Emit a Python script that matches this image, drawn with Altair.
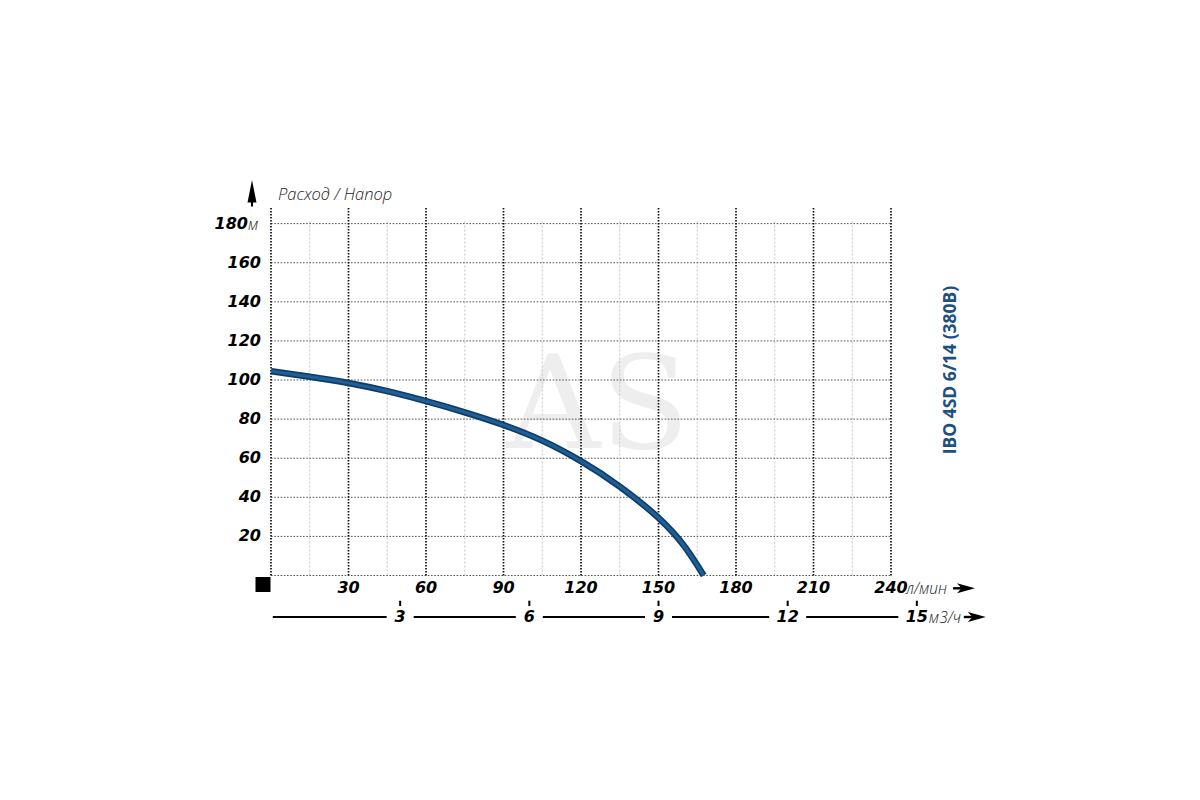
import altair as alt
import pandas as pd

# ---------------- data ----------------
flow_lpm = [0, 15, 30, 45, 60, 75, 90, 105, 120, 135, 150, 160, 167.5]
head_m = [104.5, 101.7, 98.5, 94.3, 89.2, 83.5, 77.0, 69.0, 58.5, 45.5, 29.5, 15.0, 0.0]

x_label_values = [30, 60, 90, 120, 150, 180, 210, 240]          # л/мин
x_major_grid = [0, 30, 60, 90, 120, 150, 180, 210, 240]
x_minor_grid = [15, 45, 75, 105, 135, 165, 195, 225]
y_label_values = [20, 40, 60, 80, 100, 120, 140, 160]
y_top_label = 180
y_grid = [0, 20, 40, 60, 80, 100, 120, 140, 160, 180]
m3h_values = [3, 6, 9, 12, 15]                                   # м3/ч
LPM_PER_M3H = 1000 / 60

title_right = "IBO 4SD 6/14 (380В)"
axis_title = "Расход / Напор"
x_unit = "л/мин"
x2_unit = "м3/ч"
y_unit = "м"
watermark = "AS"

# ---------------- layout ----------------
W, H = 620, 367.5
XMAX, YMAX = 240, 188
PX_PER_UNIT = W / XMAX
FONT = "Open Sans"
NUMFONT = "DejaVu Sans"
NUMSIZE = 16

xs = alt.Scale(domain=[0, XMAX], nice=False, zero=False)
ys = alt.Scale(domain=[0, YMAX], nice=False, zero=False)

curve = pd.DataFrame({"q": flow_lpm, "h": head_m})
xlab = pd.DataFrame({"v": x_label_values, "t": [str(v) for v in x_label_values]})
ylab = pd.DataFrame({"v": y_label_values, "t": [str(v) for v in y_label_values]})
m3 = pd.DataFrame({"m": m3h_values, "t": [str(v) for v in m3h_values]})
m3["pos"] = m3["m"] * LPM_PER_M3H

# line segments of the m3/h row, interrupted around each label
half_gap = [(13.5 if len(t) == 1 else 18.5) / PX_PER_UNIT for t in m3["t"]]
starts, ends = [0.7], []
for p, g in zip(m3["pos"], half_gap):
    ends.append(p - g)
    starts.append(p + g)
seg = pd.DataFrame({"a": starts[:-1], "b": ends})

ROW1_Y = 380.3
ROW2_Y = 409.0
ARROW = "M1,0L-1,-0.55L-0.5,0L-1,0.55Z"

num_style = dict(font=NUMFONT, fontSize=NUMSIZE, fontWeight="bold", fontStyle="italic",
                 baseline="middle", color="#000000")
unit_style = dict(font=FONT, fontSize=15.5, fontStyle="italic", fontWeight=300,
                  align="left", baseline="middle", color="#1a1a1a")

# watermark
wm = alt.Chart(pd.DataFrame({"t": [watermark]})).mark_text(
    font="DejaVu Serif", fontSize=130, color="#eeeeee", align="center", baseline="alphabetic"
).encode(x=alt.value(327), y=alt.value(240), text="t:N")

# grid
vmaj = alt.Chart(pd.DataFrame({"x": x_major_grid})).mark_rule(
    color="#111111", strokeWidth=1.7, strokeDash=[1.6, 1.4]
).encode(x=alt.X("x:Q", scale=xs, axis=None), y=alt.YDatum(0), y2=alt.Y2Datum(YMAX))

vmin = alt.Chart(pd.DataFrame({"x": x_minor_grid})).mark_rule(
    color="#c4c4c4", strokeWidth=1, strokeDash=[2, 2]
).encode(x=alt.X("x:Q", scale=xs, axis=None), y=alt.YDatum(0), y2=alt.Y2Datum(182))

hgrid = alt.Chart(pd.DataFrame({"y": y_grid})).mark_rule(
    color="#555555", strokeWidth=1, strokeDash=[1.6, 1.6]
).encode(y=alt.Y("y:Q", scale=ys, axis=None), x=alt.XDatum(0), x2=alt.X2Datum(XMAX))

# curve
line_dark = alt.Chart(curve).mark_line(
    interpolate="natural", color="#0f3c66", strokeWidth=6.5, strokeCap="butt"
).encode(x=alt.X("q:Q", scale=xs, axis=None), y=alt.Y("h:Q", scale=ys, axis=None))
line_light = alt.Chart(curve).mark_line(
    interpolate="natural", color="#1e5f98", strokeWidth=3.2, strokeCap="butt"
).encode(x=alt.X("q:Q", scale=xs, axis=None), y=alt.Y("h:Q", scale=ys, axis=None))

# y labels
ytext = alt.Chart(ylab).mark_text(align="right", **num_style).encode(
    x=alt.value(-10), y=alt.Y("v:Q", scale=ys, axis=None), text="t:N")
ytop = alt.Chart(pd.DataFrame({"v": [y_top_label], "t": [str(y_top_label)], "u": [y_unit]}))
ytop_num = ytop.mark_text(align="right", **num_style).encode(
    x=alt.value(-23), y=alt.Y("v:Q", scale=ys, axis=None), text="t:N")
ytop_unit = ytop.mark_text(dy=1, **unit_style).encode(
    x=alt.value(-23), y=alt.Y("v:Q", scale=ys, axis=None), text="u:N")

# y arrow + title
yarrow = alt.Chart(pd.DataFrame({"k": [0]})).mark_point(
    shape="M0,-1L0.34,0.7L0.08,0.7L0.08,1L-0.08,1L-0.08,0.7L-0.34,0.7Z",
    filled=True, color="#000000", size=700, opacity=1, strokeWidth=0
).encode(x=alt.value(-19), y=alt.value(-14.8))
ytitle = alt.Chart(pd.DataFrame({"t": [axis_title]})).mark_text(
    font=FONT, fontSize=16.5, fontStyle="italic", fontWeight=300, align="left",
    baseline="alphabetic", color="#222222"
).encode(x=alt.value(7), y=alt.value(-8.5), text="t:N")

# origin square
square = alt.Chart(pd.DataFrame({"k": [0]})).mark_square(
    filled=True, color="#000000", size=225, opacity=1
).encode(x=alt.value(-8), y=alt.value(376.5))

# x labels row 1 (л/мин)
xtext = alt.Chart(xlab).mark_text(align="center", **num_style).encode(
    x=alt.X("v:Q", scale=xs, axis=None), y=alt.value(ROW1_Y), text="t:N")
u1 = alt.Chart(pd.DataFrame({"v": [XMAX], "t": [x_unit]}))
u1_text = u1.mark_text(dx=15, dy=1, **unit_style).encode(
    x=alt.X("v:Q", scale=xs, axis=None), y=alt.value(ROW1_Y), text="t:N")
u1_line = u1.mark_rule(color="#000000", strokeWidth=2.4, xOffset=62, x2Offset=72).encode(
    x=alt.X("v:Q", scale=xs, axis=None), x2="v:Q", y=alt.value(ROW1_Y))
u1_head = u1.mark_point(shape=ARROW, filled=True, color="#000000", size=324,
                        opacity=1, strokeWidth=0, xOffset=75).encode(
    x=alt.X("v:Q", scale=xs, axis=None), y=alt.value(ROW1_Y))

# x row 2 (м3/ч)
segs = alt.Chart(seg).mark_rule(color="#000000", strokeWidth=2).encode(
    x=alt.X("a:Q", scale=xs, axis=None), x2="b:Q", y=alt.value(ROW2_Y))
m3ticks = alt.Chart(m3).mark_rule(color="#000000", strokeWidth=2).encode(
    x=alt.X("pos:Q", scale=xs, axis=None), y=alt.value(392.7), y2=alt.value(398.0))
m3text = alt.Chart(m3).mark_text(align="center", **num_style).encode(
    x=alt.X("pos:Q", scale=xs, axis=None), y=alt.value(ROW2_Y), text="t:N")
u2 = alt.Chart(pd.DataFrame({"v": [m3h_values[-1] * LPM_PER_M3H], "t": [x2_unit]}))
u2_text = u2.mark_text(dx=12, dy=1, **unit_style).encode(
    x=alt.X("v:Q", scale=xs, axis=None), y=alt.value(ROW2_Y), text="t:N")
u2_line = u2.mark_rule(color="#000000", strokeWidth=2.4, xOffset=47, x2Offset=57).encode(
    x=alt.X("v:Q", scale=xs, axis=None), x2="v:Q", y=alt.value(ROW2_Y))
u2_head = u2.mark_point(shape=ARROW, filled=True, color="#000000", size=324,
                        opacity=1, strokeWidth=0, xOffset=60).encode(
    x=alt.X("v:Q", scale=xs, axis=None), y=alt.value(ROW2_Y))

# right title
rtitle = alt.Chart(pd.DataFrame({"t": [title_right]})).mark_text(
    font=FONT, fontSize=17.5, fontWeight="bold", angle=270, align="center",
    baseline="middle", color="#1d4f80"
).encode(x=alt.value(680), y=alt.value(162), text="t:N")

chart = alt.layer(
    wm, vmin, hgrid, vmaj, line_dark, line_light,
    ytext, ytop_num, ytop_unit, yarrow, ytitle, square,
    xtext, u1_text, u1_line, u1_head,
    segs, m3ticks, m3text, u2_text, u2_line, u2_head,
    rtitle,
).properties(
    width=W, height=H,
    autosize=alt.AutoSizeParams(type="none"),
    padding={"left": 263, "top": 200, "right": 300, "bottom": 216},
    background="#ffffff",
).configure_view(stroke=None).configure_axis(disable=True)

chart.save("out.html", embed_options={"renderer": "svg", "actions": False})
